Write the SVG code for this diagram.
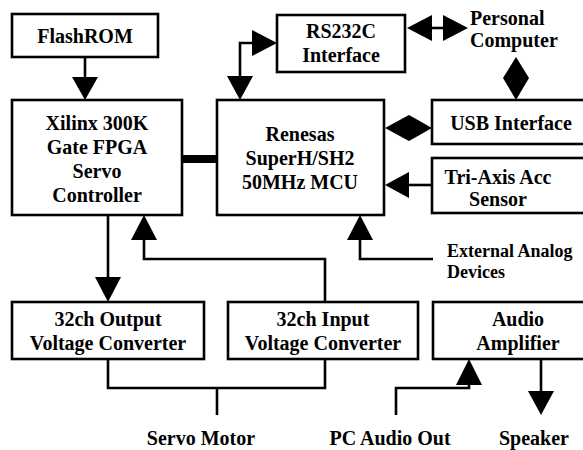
<svg xmlns="http://www.w3.org/2000/svg" width="583" height="450" viewBox="0 0 583 450">
<style>
.box{fill:#fff;stroke:#000;stroke-width:2.6}
.ln{fill:none;stroke:#000;stroke-width:2.6}
.hd{fill:#000;stroke:none}
text{font-weight:bold;font-size:20px;fill:#000;text-anchor:middle}
.sm{font-size:18px;text-anchor:start}
.st{text-anchor:start}
</style>
<rect width="583" height="450" fill="#fff"/>
<g id="connectors">
  <line class="ln" x1="85" y1="57" x2="85" y2="78"/>
  <polygon class="hd" points="72,77 98,77 85,100"/>
  <rect class="hd" x="182" y="155" width="35" height="8"/>
  <polyline class="ln" points="240,77 240,43 253,43"/>
  <polygon class="hd" points="227,76 253,76 240,100"/>
  <polygon class="hd" points="252,30 252,56 277,43"/>
  <line class="ln" x1="431" y1="28" x2="444" y2="28"/>
  <polygon class="hd" points="407,28 432,15 432,41"/>
  <polygon class="hd" points="443,15 443,41 468,28"/>
  <polygon class="hd" points="516,57 503,78 529,78"/>
  <polygon class="hd" points="503,78 529,78 516,100"/>
  <polygon class="hd" points="385,128 409,115 409,141"/>
  <polygon class="hd" points="409,115 409,141 432,128"/>
  <line class="ln" x1="408" y1="185" x2="432" y2="185"/>
  <polygon class="hd" points="385,185 409,172 409,198"/>
  <line class="ln" x1="108" y1="215" x2="108" y2="278"/>
  <polygon class="hd" points="95,277 121,277 108,302"/>
  <polyline class="ln" points="144,239 144,259 325,259 325,302"/>
  <polygon class="hd" points="144,215 131,240 157,240"/>
  <polyline class="ln" points="360,239 360,259 433,259"/>
  <polygon class="hd" points="360,215 347,240 373,240"/>
  <polyline class="ln" points="108,359 108,388 325,388 325,359"/>
  <line class="ln" x1="217" y1="388" x2="217" y2="415"/>
  <polyline class="ln" points="396,415 396,388 469,388 469,384"/>
  <polygon class="hd" points="469,359 456,385 482,385"/>
  <line class="ln" x1="541" y1="359" x2="541" y2="392"/>
  <polygon class="hd" points="528,391 554,391 541,415"/>
</g>
<g font-family="'Liberation Serif', 'Times New Roman', Times, 'DejaVu Serif', serif">
<g id="flashrom">
  <rect class="box" x="12" y="14" width="146" height="43"/>
  <text x="85" y="43">FlashROM</text>
</g>
<g id="fpga">
  <rect class="box" x="12" y="100" width="170" height="115"/>
  <text x="97" y="130">Xilinx 300K</text>
  <text x="97" y="154">Gate FPGA</text>
  <text x="97" y="178">Servo</text>
  <text x="97" y="202">Controller</text>
</g>
<g id="mcu">
  <rect class="box" x="217" y="100" width="167" height="115"/>
  <text x="300" y="141">Renesas</text>
  <text x="300" y="165">SuperH/SH2</text>
  <text x="300" y="189">50MHz MCU</text>
</g>
<g id="rs232c">
  <rect class="box" x="277" y="15" width="128" height="57"/>
  <text x="341" y="38">RS232C</text>
  <text x="341" y="62">Interface</text>
</g>
<g id="pc">
  <text class="st" x="470" y="25">Personal</text>
  <text class="st" x="470" y="47">Computer</text>
</g>
<g id="usb">
  <rect class="box" x="432" y="100" width="160" height="44"/>
  <text x="511" y="130">USB Interface</text>
</g>
<g id="triaxis">
  <rect class="box" x="432" y="158" width="160" height="55"/>
  <text x="498" y="184">Tri-Axis Acc</text>
  <text x="498" y="206">Sensor</text>
</g>
<g id="external">
  <text class="sm" x="447" y="257">External  Analog</text>
  <text class="sm" x="447" y="278">Devices</text>
</g>
<g id="output">
  <rect class="box" x="12" y="302" width="192" height="57"/>
  <text x="108" y="326">32ch Output</text>
  <text x="108" y="350">Voltage Converter</text>
</g>
<g id="input">
  <rect class="box" x="228" y="302" width="190" height="57"/>
  <text x="323" y="326">32ch Input</text>
  <text x="323" y="350">Voltage Converter</text>
</g>
<g id="audio">
  <rect class="box" x="433" y="302" width="160" height="57"/>
  <text x="518" y="326">Audio</text>
  <text x="518" y="350">Amplifier</text>
</g>
<g id="servo">
  <text x="201" y="445">Servo Motor</text>
</g>
<g id="pcaudio">
  <text x="390" y="445">PC Audio Out</text>
</g>
<g id="speaker">
  <text x="534" y="445">Speaker</text>
</g>
</g>
</svg>
